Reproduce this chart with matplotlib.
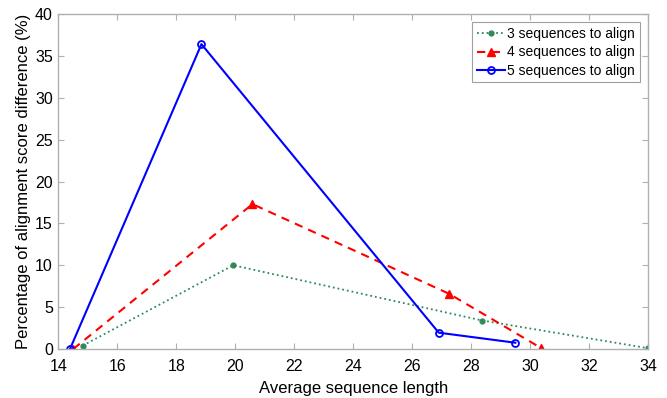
import matplotlib
matplotlib.use("Agg")
import matplotlib.pyplot as plt

plt.rcParams['font.family'] = ['Liberation Sans', 'DejaVu Sans']

# data
len3 = [14.82, 19.93, 28.38, 34.0]
diff3 = [0.4, 10.0, 3.4, 0.1]

len4 = [14.5, 20.58, 27.25, 30.38]
diff4 = [0.0, 17.3, 6.6, 0.1]

len5 = [14.39, 18.85, 26.9, 29.5]
diff5 = [0.0, 36.4, 1.95, 0.75]

labels = ['3 sequences to align', '4 sequences to align', '5 sequences to align']
xticks = [14, 16, 18, 20, 22, 24, 26, 28, 30, 32, 34]
yticks = [0, 5, 10, 15, 20, 25, 30, 35, 40]

fig = plt.figure(figsize=(6.67, 3.98), dpi=100)
ax = fig.add_axes([0.0877, 0.1231, 0.8838, 0.8417])

ax.plot(len3, diff3, ':', color='#2e8b57', lw=1.3, marker='o', ms=3.5,
        label=labels[0])
ax.plot(len4, diff4, '--', color='red', lw=1.5, marker='^', ms=6,
        dashes=(4, 3), label=labels[1])
ax.plot(len5, diff5, '-', color='blue', lw=1.5, marker='o', ms=5,
        mfc='none', mew=1.3, label=labels[2])

ax.set_xlim(14, 34)
ax.set_ylim(0, 40)
ax.set_xticks(xticks)
ax.set_yticks(yticks)
ax.tick_params(direction='in', top=True, right=True, length=4,
               color='#b0b0b0', labelsize=11.5)
ax.tick_params(axis='x', pad=7.5)
ax.tick_params(axis='y', pad=4)
for s in ax.spines.values():
    s.set_color('#b0b0b0')
    s.set_linewidth(1.0)

ax.set_xlabel('Average sequence length', fontsize=12, labelpad=5)
ax.set_ylabel('Percentage of alignment score difference (%)', fontsize=12,
              labelpad=3)

leg = ax.legend(loc='upper right', fontsize=10, fancybox=False,
                framealpha=1, edgecolor='#a0a0a0', handlelength=2.0,
                handletextpad=0.15, borderpad=0.35, labelspacing=0.3,
                borderaxespad=0.6)
leg.get_frame().set_linewidth(0.8)

fig.savefig('out.png', dpi=100)
